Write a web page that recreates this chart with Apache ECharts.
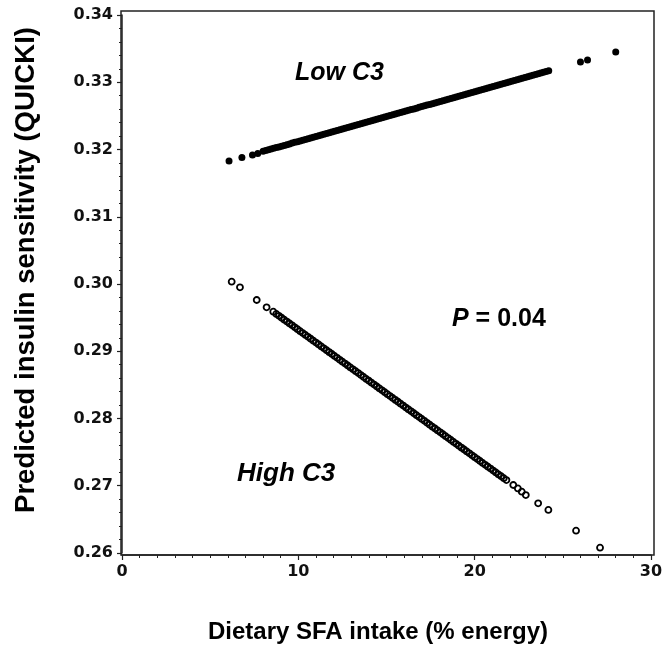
<!DOCTYPE html>
<html>
	<head>
		<meta charset="utf-8">
		<title>QUICKI vs SFA</title>
		<script type="text/javascript" src="https://cdn.jsdelivr.net/npm/echarts@6/dist/echarts.min.js"></script>
		<style>
		html, body { margin: 0; padding: 0; background: #fff; }
		#chart { width: 666px; height: 654px; }
		</style>
	</head>
	<body>
		<div id="chart"></div>
		<script>
// Low C3 (filled dots)
var lowX = [6.07, 6.8, 7.4, 7.7,
	8.00, 8.15, 8.30, 8.45, 8.60, 8.75, 8.90, 9.05, 9.20, 9.35, 9.50, 9.65, 9.80, 9.95,
	10.10, 10.25, 10.40, 10.55, 10.70, 10.85, 11.00, 11.15, 11.30, 11.45, 11.60, 11.75, 11.90,
	12.05, 12.20, 12.35, 12.50, 12.65, 12.80, 12.95, 13.10, 13.25, 13.40, 13.55, 13.70, 13.85,
	14.00, 14.15, 14.30, 14.45, 14.60, 14.75, 14.90, 15.05, 15.20, 15.35, 15.50, 15.65, 15.80, 15.95,
	16.10, 16.25, 16.40, 16.55, 16.70, 16.85, 17.00, 17.15, 17.30, 17.45, 17.60, 17.75, 17.90,
	18.05, 18.20, 18.35, 18.50, 18.65, 18.80, 18.95, 19.10, 19.25, 19.40, 19.55, 19.70, 19.85,
	20.00, 20.15, 20.30, 20.45, 20.60, 20.75, 20.90, 21.05, 21.20, 21.35, 21.50, 21.65, 21.80, 21.95,
	22.10, 22.25, 22.40, 22.55, 22.70, 22.85, 23.00, 23.15, 23.30, 23.45, 23.60, 23.75, 23.90,
	24.05, 24.20, 26.0, 26.4, 28.0];
var lowY = [0.3183, 0.3188, 0.3192, 0.3194,
	0.31973, 0.31984, 0.31995, 0.32006, 0.32017, 0.32028, 0.32039, 0.32050, 0.32061, 0.32072, 0.32083, 0.32095, 0.32106, 0.32117,
	0.32128, 0.32139, 0.32150, 0.32161, 0.32172, 0.32183, 0.32194, 0.32205, 0.32216, 0.32228, 0.32239, 0.32250, 0.32261,
	0.32272, 0.32283, 0.32294, 0.32305, 0.32316, 0.32327, 0.32338, 0.32349, 0.32361, 0.32372, 0.32383, 0.32394, 0.32405,
	0.32416, 0.32427, 0.32438, 0.32449, 0.32460, 0.32471, 0.32482, 0.32494, 0.32505, 0.32516, 0.32527, 0.32538, 0.32549, 0.32560,
	0.32571, 0.32582, 0.32593, 0.32604, 0.32615, 0.32627, 0.32638, 0.32649, 0.32660, 0.32671, 0.32682, 0.32693, 0.32704,
	0.32715, 0.32726, 0.32737, 0.32749, 0.32760, 0.32771, 0.32782, 0.32793, 0.32804, 0.32815, 0.32826, 0.32837, 0.32848,
	0.32859, 0.32870, 0.32882, 0.32893, 0.32904, 0.32915, 0.32926, 0.32937, 0.32948, 0.32959, 0.32970, 0.32981, 0.32992, 0.33003,
	0.33015, 0.33026, 0.33037, 0.33048, 0.33059, 0.33070, 0.33081, 0.33092, 0.33103, 0.33114, 0.33125, 0.33136, 0.33148,
	0.33159, 0.33170, 0.3330, 0.3333, 0.3345];

// High C3 (open circles)
var highX = [6.22, 6.69, 7.64, 8.2, 8.58,
	8.75, 8.90, 9.05, 9.20, 9.35, 9.50, 9.65, 9.80, 9.95,
	10.10, 10.25, 10.40, 10.55, 10.70, 10.85, 11.00, 11.15, 11.30, 11.45, 11.60, 11.75, 11.90,
	12.05, 12.20, 12.35, 12.50, 12.65, 12.80, 12.95, 13.10, 13.25, 13.40, 13.55, 13.70, 13.85,
	14.00, 14.15, 14.30, 14.45, 14.60, 14.75, 14.90, 15.05, 15.20, 15.35, 15.50, 15.65, 15.80, 15.95,
	16.10, 16.25, 16.40, 16.55, 16.70, 16.85, 17.00, 17.15, 17.30, 17.45, 17.60, 17.75, 17.90,
	18.05, 18.20, 18.35, 18.50, 18.65, 18.80, 18.95, 19.10, 19.25, 19.40, 19.55, 19.70, 19.85,
	20.00, 20.15, 20.30, 20.45, 20.60, 20.75, 20.90, 21.05, 21.20, 21.35, 21.50, 21.65, 21.80,
	22.19, 22.45, 22.67, 22.9, 23.6, 24.18, 25.75, 27.11];
var highY = [0.30034, 0.2995, 0.29762, 0.29653, 0.29588,
	0.29555, 0.29527, 0.29498, 0.29470, 0.29441, 0.29413, 0.29385, 0.29356, 0.29328,
	0.29299, 0.29271, 0.29243, 0.29214, 0.29186, 0.29157, 0.29129, 0.29101, 0.29072, 0.29044, 0.29015, 0.28987, 0.28959,
	0.28930, 0.28902, 0.28873, 0.28845, 0.28817, 0.28788, 0.28760, 0.28731, 0.28703, 0.28675, 0.28646, 0.28618, 0.28589,
	0.28561, 0.28533, 0.28504, 0.28476, 0.28447, 0.28419, 0.28391, 0.28362, 0.28334, 0.28305, 0.28277, 0.28249, 0.28220, 0.28192,
	0.28163, 0.28135, 0.28107, 0.28078, 0.28050, 0.28021, 0.27993, 0.27965, 0.27936, 0.27908, 0.27879, 0.27851, 0.27823,
	0.27794, 0.27766, 0.27737, 0.27709, 0.27681, 0.27652, 0.27624, 0.27595, 0.27567, 0.27539, 0.27510, 0.27482, 0.27453,
	0.27425, 0.27397, 0.27368, 0.27340, 0.27311, 0.27283, 0.27255, 0.27226, 0.27198, 0.27169, 0.27141, 0.27113, 0.27084,
	0.27011, 0.2696, 0.26912, 0.26862, 0.26739, 0.2664, 0.26332, 0.26079];

var xTicks = [0, 10, 20, 30];
var yTicks = [0.26, 0.27, 0.28, 0.29, 0.30, 0.31, 0.32, 0.33, 0.34];

function pairs(xs, ys) {
	var out = [];
	for (var i = 0; i < xs.length; i++) out.push([xs[i], ys[i]]);
	return out;
}

var labelFont = { fontFamily: 'DejaVu Sans', fontWeight: 'bold', fontSize: 16, color: '#111' };

var chart = echarts.init(document.getElementById('chart'));
chart.setOption({
	animation: false,
	backgroundColor: '#fff',
	grid: [
		{ left: 122, top: 15, width: 529, height: 538 },
		// frame box, a bit larger than the data area
		{ left: 121, top: 11, width: 533, height: 544, show: true, borderColor: '#222', borderWidth: 1.5, backgroundColor: 'transparent' }
	],
	xAxis: [{
		gridIndex: 0,
		type: 'value',
		min: xTicks[0], max: xTicks[xTicks.length - 1], interval: 10,
		offset: 2,
		axisLine: { show: true, lineStyle: { color: '#222', width: 1.5 } },
		axisTick: { show: true, length: 5, lineStyle: { color: '#222', width: 1.2 } },
		minorTick: { show: true, splitNumber: 10, length: 3, lineStyle: { color: '#222', width: 1 } },
		splitLine: { show: false },
		axisLabel: Object.assign({ margin: 9 }, labelFont)
	}, {
		gridIndex: 1, type: 'value', show: false
	}],
	yAxis: [{
		gridIndex: 0,
		type: 'value',
		min: yTicks[0], max: yTicks[yTicks.length - 1], interval: 0.01,
		offset: 1,
		axisLine: { show: true, lineStyle: { color: '#222', width: 1.5 } },
		axisTick: { show: true, length: 5, lineStyle: { color: '#222', width: 1.2 } },
		minorTick: { show: true, splitNumber: 5, length: 3, lineStyle: { color: '#222', width: 1 } },
		splitLine: { show: false },
		axisLabel: Object.assign({ margin: 8, formatter: function (v) { return v.toFixed(2); } }, labelFont)
	}, {
		gridIndex: 1, type: 'value', show: false
	}],
	series: [{
		name: 'Low C3',
		type: 'scatter',
		xAxisIndex: 0, yAxisIndex: 0,
		symbol: 'circle',
		symbolSize: 7,
		itemStyle: { color: '#000', opacity: 1 },
		data: pairs(lowX, lowY)
	}, {
		name: 'High C3',
		type: 'scatter',
		xAxisIndex: 0, yAxisIndex: 0,
		symbol: 'circle',
		symbolSize: 6,
		itemStyle: { color: 'rgba(255,255,255,0)', borderColor: '#000', borderWidth: 1.8, opacity: 1 },
		data: pairs(highX, highY)
	}],
	graphic: [{
		type: 'text', x: 26, y: 270, rotation: Math.PI / 2,
		style: { text: 'Predicted insulin sensitivity (QUICKI)', fontFamily: 'Liberation Sans', fontWeight: 'bold', fontSize: 27.5, fill: '#000', textAlign: 'center', textVerticalAlign: 'middle' }
	}, {
		type: 'text', x: 378, y: 632,
		style: { text: 'Dietary SFA intake (% energy)', fontFamily: 'Liberation Sans', fontWeight: 'bold', fontSize: 24, fill: '#000', textAlign: 'center', textVerticalAlign: 'middle' }
	}, {
		type: 'text', x: 295, y: 73,
		style: { text: 'Low C3', fontFamily: 'Liberation Sans', fontWeight: 'bold', fontStyle: 'italic', fontSize: 25, fill: '#000', textAlign: 'left', textVerticalAlign: 'middle' }
	}, {
		type: 'text', x: 237, y: 474,
		style: { text: 'High C3', fontFamily: 'Liberation Sans', fontWeight: 'bold', fontStyle: 'italic', fontSize: 26, fill: '#000', textAlign: 'left', textVerticalAlign: 'middle' }
	}, {
		type: 'text', x: 452, y: 319,
		style: {
			text: '{p|P}{r| = 0.04}',
			textAlign: 'left', textVerticalAlign: 'middle',
			rich: {
				p: { fontFamily: 'Liberation Sans', fontWeight: 'bold', fontStyle: 'italic', fontSize: 25, fill: '#000' },
				r: { fontFamily: 'Liberation Sans', fontWeight: 'bold', fontSize: 25, fill: '#000' }
			}
		}
	}]
});
		</script>
	</body>
</html>
